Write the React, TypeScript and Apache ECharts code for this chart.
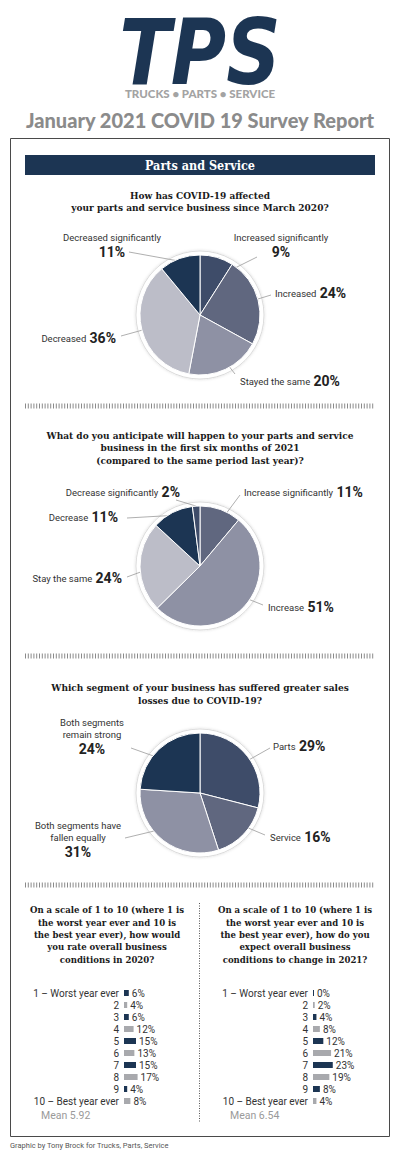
import React, { useEffect, useRef } from "react";
import * as echarts from "echarts";

// ---------- data ----------
const q1Lines = ["How has COVID-19 affected", "your parts and service business since March 2020?"];
const q1Names = ["Increased significantly", "Increased", "Stayed the same", "Decreased", "Decreased significantly"];
const q1Values = [9, 24, 20, 36, 11];

const q2Lines = [
  "What do you anticipate will happen to your parts and service",
  "business in the first six months of 2021",
  "(compared to the same period last year)?",
];
const q2Names = ["Increase significantly", "Increase", "Stay the same", "Decrease", "Decrease significantly"];
const q2Values = [11, 51, 24, 11, 2];

const q3Lines = ["Which segment of your business has suffered greater sales", "losses due to COVID-19?"];
const q3Names = ["Parts", "Service", "Both segments have\nfallen equally", "Both segments\nremain strong"];
const q3Values = [29, 16, 31, 24];

const q4Lines = [
  "On a scale of 1 to 10 (where 1 is",
  "the worst year ever and 10 is",
  "the best year ever), how would",
  "you rate overall business",
  "conditions in 2020?",
];
const q5Lines = [
  "On a scale of 1 to 10 (where 1 is",
  "the worst year ever and 10 is",
  "the best year ever), how do you",
  "expect overall business",
  "conditions to change in 2021?",
];
const ratingLabels = ["1 – Worst year ever", "2", "3", "4", "5", "6", "7", "8", "9", "10 – Best year ever"];
const rating2020 = [6, 4, 6, 12, 15, 13, 15, 17, 4, 8];
const rating2021 = [0, 2, 4, 8, 12, 21, 23, 19, 8, 4];
const mean2020 = "5.92";
const mean2021 = "6.54";

const titleText = "January 2021 COVID 19 Survey Report";
const sectionText = "Parts and Service";
const logoText = "TPS";
const logoSub = "TRUCKS \u2022 PARTS \u2022 SERVICE";
const footerText = "Graphic by Tony Brock for Trucks, Parts, Service";

// ---------- styles ----------
const NAVY = "#1c3553";
const C2 = "#3e4c69";
const C3 = "#60677f";
const C4 = "#8e91a4";
const C5 = "#bcbdc8";
const BAR_GRAY = "#a8a9ad";
const NARROW = "'Liberation Sans Narrow', 'Roboto', sans-serif";
const SLAB = "'DejaVu Serif Condensed', 'DejaVu Serif', serif";
const R = 60;

const q1Colors = [C2, C3, C4, C5, NAVY];
const q2Colors = [C3, C4, C5, NAVY, C2];
const q3Colors = [C2, C3, C4, NAVY];

type LL = { x: number; y: number; align: string; stack: boolean; end: number[]; k: number };

const q1Layout: LL[] = [
  { x: 281, y: 246, align: "center", stack: true, end: [257, 257], k: 0.6 },
  { x: 275, y: 293, align: "left", stack: false, end: [271, 295], k: 0.6 },
  { x: 240, y: 381, align: "left", stack: false, end: [235, 374], k: 0.65 },
  { x: 116, y: 338, align: "right", stack: false, end: [121, 336], k: 0.75 },
  { x: 112, y: 246, align: "center", stack: true, end: [129, 252], k: 0.95 },
];
const q2Layout: LL[] = [
  { x: 244, y: 492, align: "left", stack: false, end: [240, 495], k: 0.6 },
  { x: 268, y: 607, align: "left", stack: false, end: [263, 605], k: 0.6 },
  { x: 122, y: 578, align: "right", stack: false, end: [127, 577], k: 0.75 },
  { x: 118, y: 517, align: "right", stack: false, end: [127, 518], k: 0.95 },
  { x: 180, y: 492, align: "right", stack: false, end: [176, 500], k: 1.0 },
];
const q3Layout: LL[] = [
  { x: 273, y: 746, align: "left", stack: false, end: [270, 748], k: 0.55 },
  { x: 270, y: 837, align: "left", stack: false, end: [265, 835], k: 0.65 },
  { x: 78, y: 840, align: "center", stack: true, end: [125, 838], k: 0.7 },
  { x: 92, y: 737, align: "center", stack: true, end: [131, 748], k: 0.7 },
];

const rich = {
  n: { fontFamily: NARROW, fontSize: 9.5, color: "#333", lineHeight: 12 },
  v: { fontFamily: "Roboto, sans-serif", fontWeight: "bold", fontSize: 14, color: "#222", lineHeight: 17 },
};

function makePie(names: string[], values: number[], colors: string[], center: number[], layouts: LL[]) {
  return [
    {
      type: "pie",
      center,
      radius: [0, R + 4],
      silent: true,
      z: 1,
      label: { show: false },
      labelLine: { show: false },
      itemStyle: { color: "#fff", borderColor: "#d4d4d4", borderWidth: 0.8, shadowBlur: 3, shadowColor: "rgba(0,0,0,0.15)" },
      data: [{ value: 1, name: "" }],
    },
    {
      type: "pie",
      center,
      radius: [0, R],
      startAngle: 90,
      clockwise: true,
      silent: true,
      z: 3,
      avoidLabelOverlap: false,
      itemStyle: { borderColor: "#fff", borderWidth: 1 },
      data: names.map((n, i) => ({ name: n, value: values[i], itemStyle: { color: colors[i] } })),
      label: {
        show: true,
        position: "outside",
        rich,
        formatter: (p: any) => {
          const L = layouts[p.dataIndex];
          if (L.stack) {
            return p.name.split("\n").map((s: string) => `{n|${s}}`).join("\n") + `\n{v|${p.value}%}`;
          }
          return `{n|${p.name}} {v|${p.value}%}`;
        },
      },
      labelLine: { show: true, length: 5, length2: 5, lineStyle: { color: "#9a9a9a", width: 0.8 } },
      labelLayout: (params: any) => {
        const L = layouts[params.dataIndex];
        const pts = params.labelLinePoints;
        let sx = L.end[0];
        let sy = L.end[1];
        if (pts && pts.length) {
          const dx = pts[0][0] - center[0];
          const dy = pts[0][1] - center[1];
          const d = Math.hypot(dx, dy) || 1;
          sx = center[0] + (dx / d) * R * L.k;
          sy = center[1] + (dy / d) * R * L.k;
        }
        return {
          x: L.x,
          y: L.y,
          align: L.align,
          verticalAlign: "middle",
          labelLinePoints: [
            [sx, sy],
            [L.end[0], L.end[1]],
          ],
        };
      },
    },
  ];
}

function barAxis(gridIndex: number) {
  return {
    gridIndex,
    type: "category",
    data: ratingLabels,
    inverse: true,
    axisLine: { show: false },
    axisTick: { show: false },
    splitLine: { show: false },
    axisLabel: { interval: 0, margin: 5, fontSize: 10, color: "#333", fontFamily: NARROW },
  };
}

function barSeries(idx: number, values: number[]) {
  return {
    type: "bar",
    xAxisIndex: idx,
    yAxisIndex: idx,
    data: values,
    barWidth: 6,
    barMinHeight: 1,
    silent: true,
    itemStyle: { color: (p: any) => (p.dataIndex % 2 === 0 ? NAVY : BAR_GRAY) },
    label: {
      show: true,
      position: "right",
      distance: 3,
      formatter: "{c}%",
      fontSize: 10,
      color: "#333",
      fontFamily: NARROW,
    },
  };
}

function qText(lines: string[], cx: number, firstY: number, lh: number, size: number) {
  return {
    type: "text",
    x: cx,
    y: firstY - lh / 2,
    silent: true,
    style: {
      text: lines.join("\n"),
      textAlign: "center",
      textVerticalAlign: "top",
      fontFamily: SLAB,
      fontWeight: "bold",
      fontSize: size,
      lineHeight: lh,
      fill: "#1a1a1a",
    },
  };
}

function sep(y: number, x1: number, x2: number) {
  return {
    type: "line",
    silent: true,
    shape: { x1, y1: y, x2, y2: y },
    style: { stroke: "#8a8a8a", lineWidth: 5, lineDash: [1, 1.8] },
  };
}

export default function App() {
  const ref = useRef<HTMLDivElement>(null);
  useEffect(() => {
    if (!ref.current) return;
    const chart = echarts.init(ref.current, null, { renderer: "svg" });
    const option: any = {
      animation: false,
      backgroundColor: "#fff",
      grid: [
        { left: 124, top: 987, width: 80, height: 120 },
        { left: 313, top: 987, width: 86, height: 120 },
      ],
      xAxis: [
        { gridIndex: 0, type: "value", min: 0, max: 100, show: false },
        { gridIndex: 1, type: "value", min: 0, max: 100, show: false },
      ],
      yAxis: [barAxis(0), barAxis(1)],
      series: [
        ...makePie(q1Names, q1Values, q1Colors, [200, 315], q1Layout),
        ...makePie(q2Names, q2Values, q2Colors, [200, 566], q2Layout),
        ...makePie(q3Names, q3Values, q3Colors, [200, 793], q3Layout),
        barSeries(0, rating2020),
        barSeries(1, rating2021),
      ],
      graphic: [
        {
          type: "text",
          x: 200,
          y: 53,
          scaleX: 0.84,
          silent: true,
          style: {
            text: logoText,
            textAlign: "center",
            textVerticalAlign: "middle",
            fontFamily: "'DejaVu Sans', sans-serif",
            fontWeight: "bold",
            fontStyle: "italic",
            fontSize: 90,
            fill: NAVY,
          },
        },
        {
          type: "text",
          x: 200,
          y: 93,
          silent: true,
          style: {
            text: logoSub,
            textAlign: "center",
            textVerticalAlign: "middle",
            fontFamily: "Lato, sans-serif",
            fontWeight: 900,
            fontSize: 11.5,
            fill: "#a3a3a3",
          },
        },
        {
          type: "text",
          x: 200,
          y: 120,
          silent: true,
          style: {
            text: titleText,
            textAlign: "center",
            textVerticalAlign: "middle",
            fontFamily: "Lato, sans-serif",
            fontWeight: 900,
            fontSize: 20,
            fill: "#8b8b8b",
          },
        },
        {
          type: "rect",
          silent: true,
          shape: { x: 10.5, y: 138.5, width: 379, height: 998 },
          style: { fill: "none", stroke: "#4a4a4a", lineWidth: 1 },
        },
        {
          type: "rect",
          silent: true,
          shape: { x: 25, y: 155, width: 350, height: 20 },
          style: { fill: NAVY },
        },
        {
          type: "text",
          x: 200,
          y: 165.5,
          silent: true,
          style: {
            text: sectionText,
            textAlign: "center",
            textVerticalAlign: "middle",
            fontFamily: SLAB,
            fontWeight: "bold",
            fontSize: 12.5,
            fill: "#fff",
          },
        },
        qText(q1Lines, 200, 195, 12.5, 10),
        sep(406, 25, 375),
        qText(q2Lines, 200, 435, 12.5, 10),
        sep(656, 25, 375),
        qText(q3Lines, 200, 687, 13, 10),
        sep(885, 25, 375),
        qText(q4Lines, 107, 910, 12.3, 9.5),
        qText(q5Lines, 295, 910, 12.3, 9.5),
        {
          type: "line",
          silent: true,
          shape: { x1: 199.5, y1: 903, x2: 199.5, y2: 1122 },
          style: { stroke: "#555", lineWidth: 1, lineDash: [1, 1.5] },
        },
        {
          type: "text",
          x: 41,
          y: 1115,
          silent: true,
          style: { text: "Mean " + mean2020, textVerticalAlign: "middle", fontFamily: NARROW, fontSize: 10.5, fill: "#9a9a9a" },
        },
        {
          type: "text",
          x: 230,
          y: 1115,
          silent: true,
          style: { text: "Mean " + mean2021, textVerticalAlign: "middle", fontFamily: NARROW, fontSize: 10.5, fill: "#9a9a9a" },
        },
        {
          type: "text",
          x: 10,
          y: 1145,
          silent: true,
          style: { text: footerText, textVerticalAlign: "middle", fontFamily: NARROW, fontSize: 7.5, fontWeight: "normal", fill: "#555" },
        },
      ],
    };
    chart.setOption(option);
    return () => chart.dispose();
  }, []);
  return <div ref={ref} style={{ position: "absolute", left: 0, top: 0, width: 400, height: 1160 }} />;
}
